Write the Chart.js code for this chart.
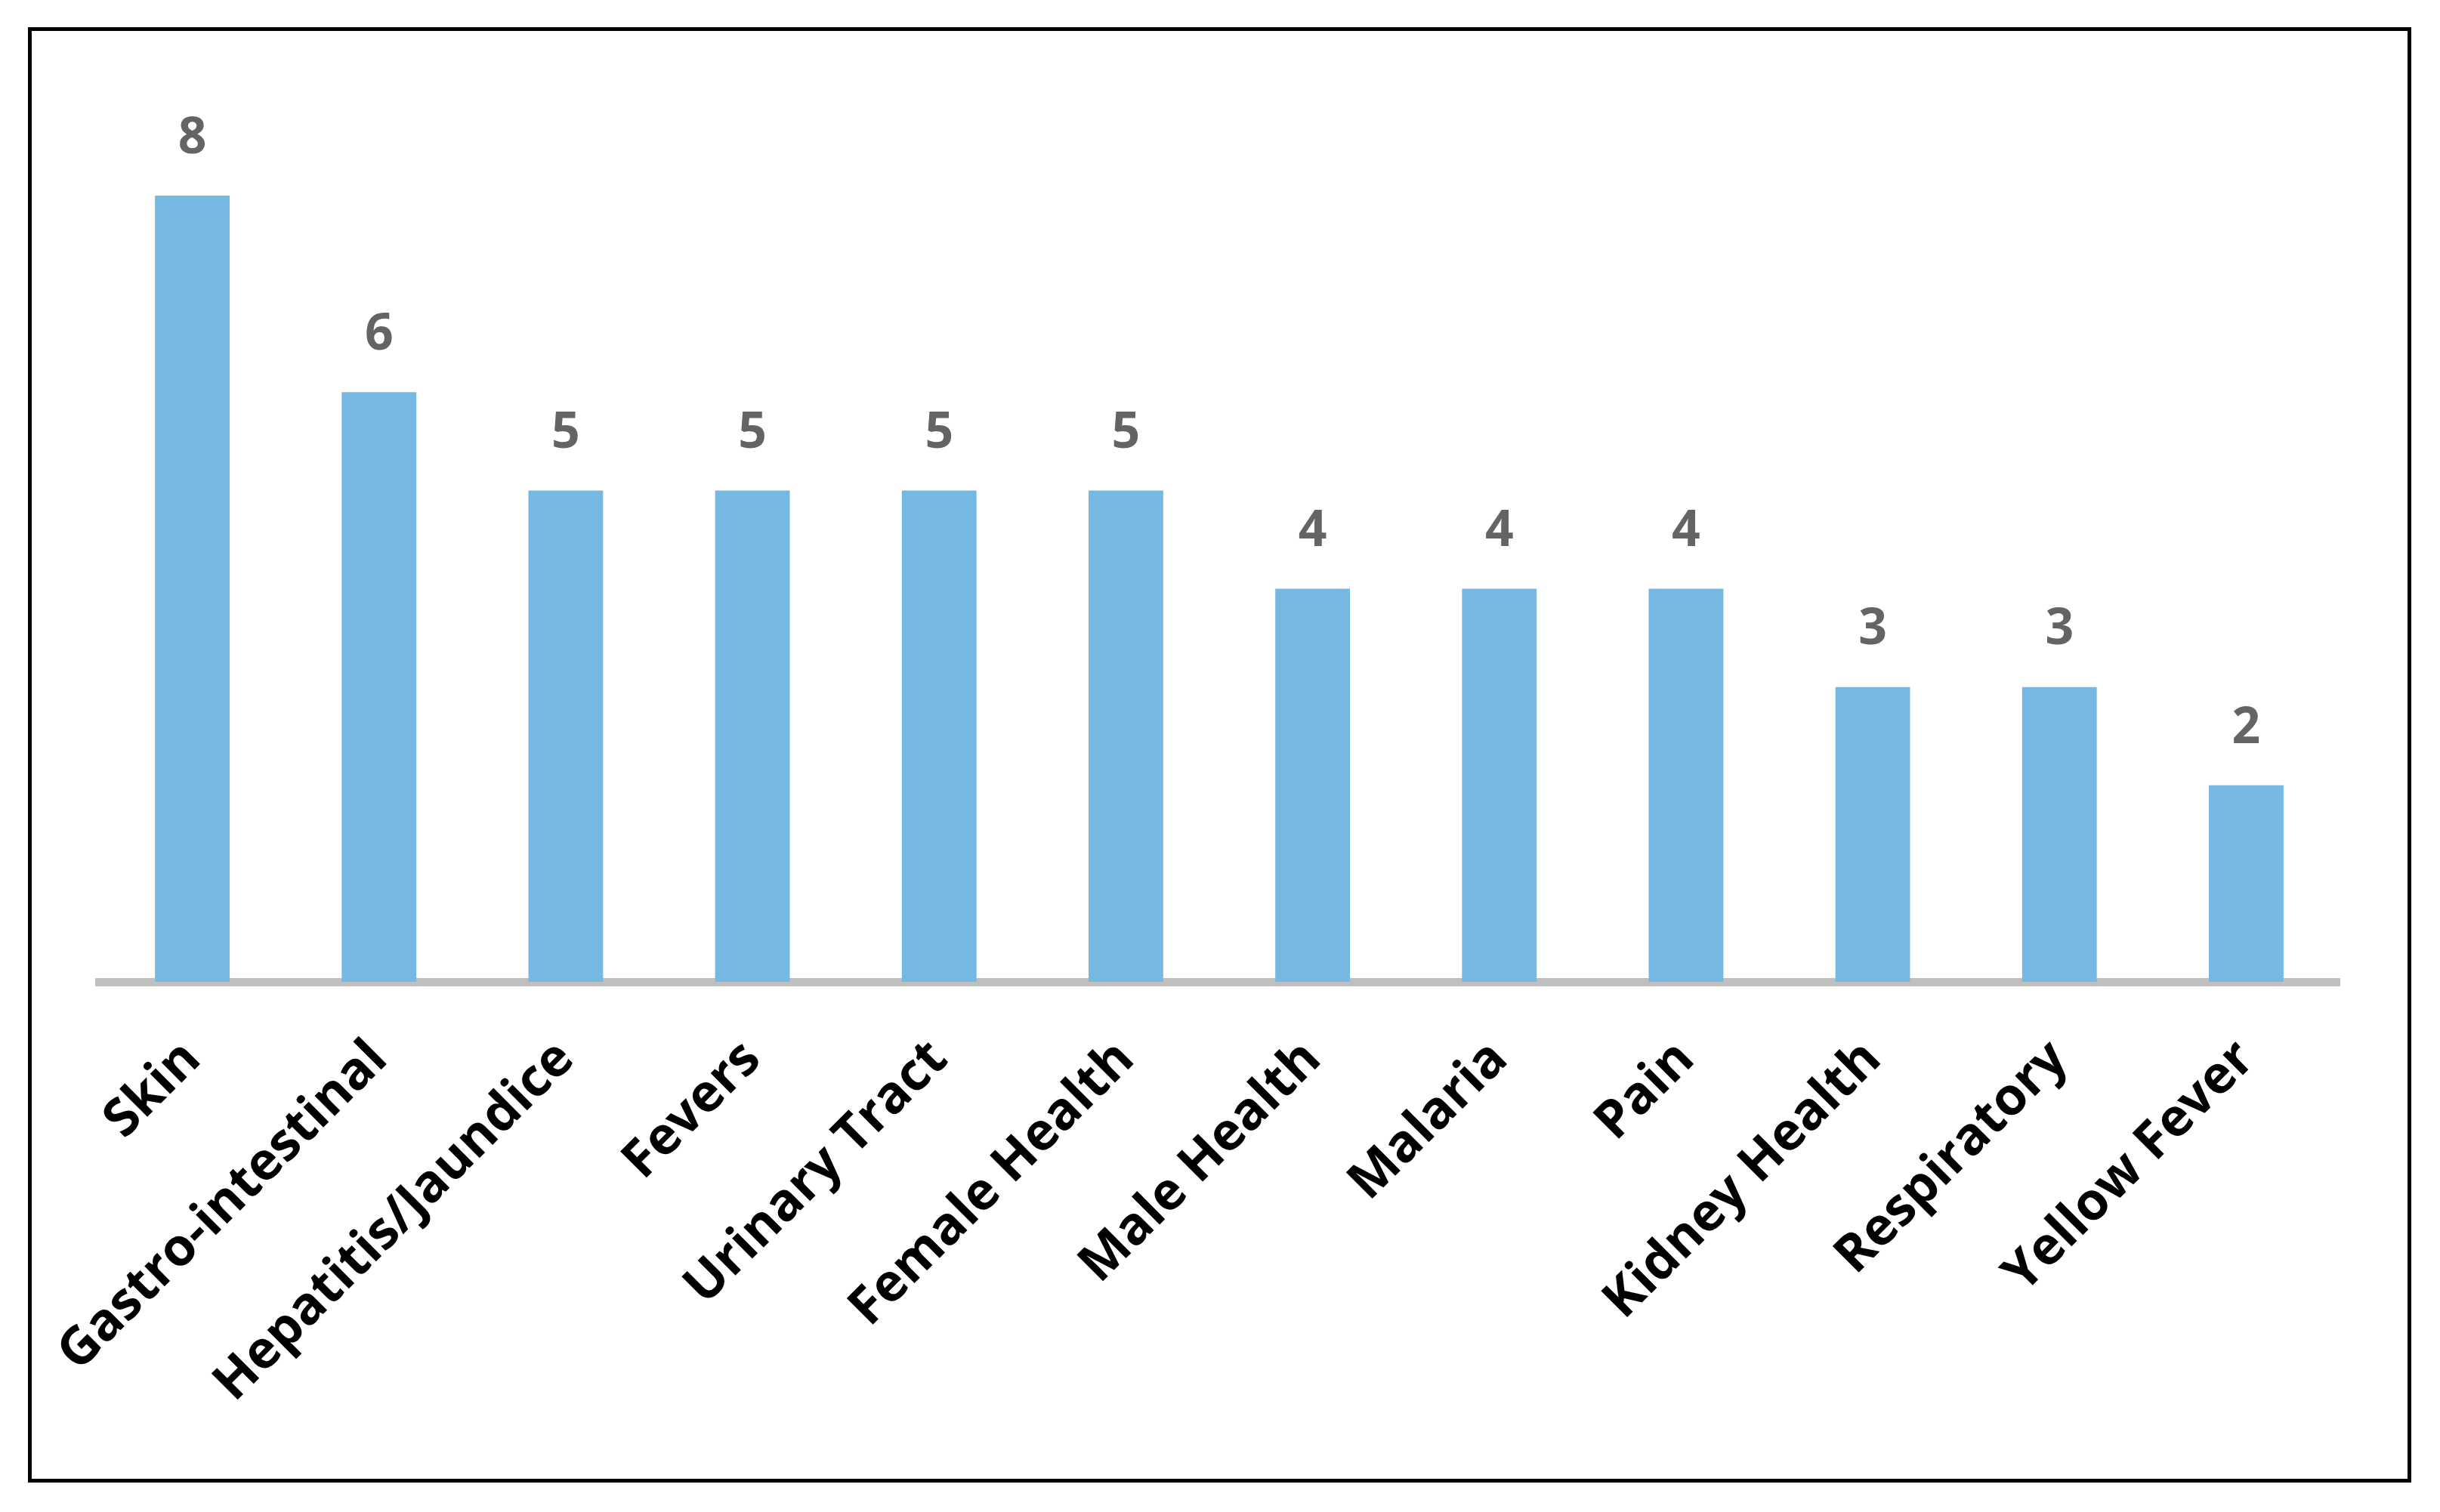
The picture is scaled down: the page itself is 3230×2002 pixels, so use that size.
<!DOCTYPE html>
<html>
<head>
<meta charset="utf-8">
<script src="https://cdn.jsdelivr.net/npm/chart.js@4/dist/chart.umd.min.js"></script>
<style>
  body { margin: 0; background: #fff; }
  #grafico { position: absolute; left: 0; top: 0; }
  .marco {
    position: absolute; left: 37px; top: 36px;
    width: 3155px; height: 1927px;
    box-sizing: border-box; border: 5px solid #000;
    pointer-events: none;
  }
</style>
</head>
<body>
<canvas id="grafico" width="3230" height="2002"></canvas>
<div class="marco"></div>
<script>
// Categories and counts
const categories = ["Skin", "Gastro-intestinal", "Hepatitis/Jaundice", "Fevers", "Urinary Tract",
  "Female Health", "Male Health", "Malaria", "Pain", "Kidney Health", "Respiratory", "Yellow Fever"];
const counts = [8, 6, 5, 5, 5, 5, 4, 4, 4, 3, 3, 2];

// value labels above each bar
const valueLabels = {
  id: "valueLabels",
  afterDatasetsDraw(chart) {
    const ctx = chart.ctx;
    const meta = chart.getDatasetMeta(0);
    ctx.save();
    ctx.font = "bold 66px 'Open Sans', sans-serif";
    ctx.fillStyle = "#646464";
    ctx.textAlign = "center";
    ctx.textBaseline = "middle";
    meta.data.forEach(function(bar, i) {
      ctx.fillText(counts[i], bar.x, bar.y - 75);
    });
    ctx.restore();
  }
};

document.addEventListener("DOMContentLoaded", function() {
  const canvas = document.getElementById("grafico").getContext("2d");

  new Chart(canvas, {
    type: "bar",
    data: {
      labels: categories,
      datasets: [{
        data: counts,
        backgroundColor: "#75B9E3",
        borderWidth: 0,
        barPercentage: 0.8,
        categoryPercentage: 0.5
      }]
    },
    options: {
      responsive: false,
      animation: false,
      layout: { padding: { top: 129, left: 131, right: 133, bottom: 0 } },
      plugins: { legend: { display: false }, tooltip: { enabled: false } },
      scales: {
        x: {
          z: 1,
          grid: { display: false, drawTicks: false },
          border: { display: true, color: "#BFBFBF", width: 11 },
          ticks: {
            color: "#000",
            font: { family: "'Open Sans', sans-serif", size: 69, weight: "bold" },
            minRotation: 45,
            maxRotation: 45,
            padding: 62
          },
          afterFit: function(scale) { scale.height = 702; }
        },
        y: {
          display: false,
          min: 0,
          max: 9
        }
      }
    },
    plugins: [valueLabels]
  });
});
</script>
</body>
</html>
